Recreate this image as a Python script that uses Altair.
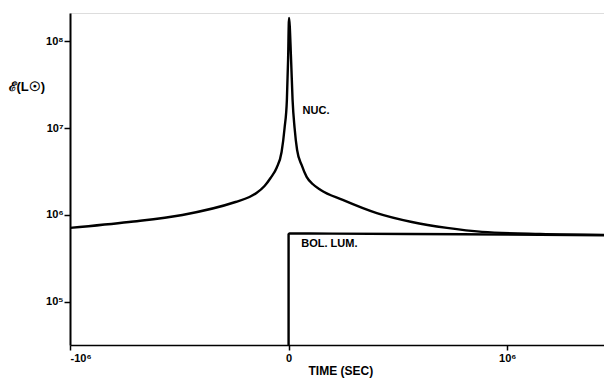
import altair as alt
import pandas as pd

# NUC. curve (time in s, luminosity in L_sun)
nuc_t = [-1000000, -730000, -486000, -243000, -179000, -147000, -110000, -82500,
         -55000, -32000, -18300, -7800, -2300, 2000, 11500, 18300, 27500, 39000,
         59600, 82600, 110000, 146800, 247700, 403700, 564000, 724800, 885000,
         1151000, 1480000]
nuc_l = [7.1e5, 8.3e5, 1.0e6, 1.41e6, 1.61e6, 1.79e6, 2.15e6, 2.66e6,
         3.47e6, 5.3e6, 1.0e7, 2.1e7, 6.05e7, 1.84e8, 6.05e7, 2.1e7, 1.0e7, 5.58e6,
         3.76e6, 2.74e6, 2.27e6, 1.94e6, 1.49e6, 1.05e6, 8.3e5, 7.1e5, 6.4e5,
         6.05e5, 5.9e5]

# BOL. LUM. curve
bol_t = [0, 0, 4000, 200000, 800000, 1480000]
bol_l = [3.2e4, 6.0e5, 6.15e5, 6.1e5, 6.0e5, 5.85e5]

x_ticks = [-1000000, 0, 1000000]
y_ticks = [1e5, 1e6, 1e7, 1e8]

df = pd.concat([
    pd.DataFrame({"t": nuc_t, "L": nuc_l, "s": "NUC", "i": range(len(nuc_t))}),
    pd.DataFrame({"t": bol_t, "L": bol_l, "s": "BOL", "i": range(len(bol_t))}),
])

labels = pd.DataFrame({
    "t": [64000, 58000],
    "L": [1.55e7, 4.6e5],
    "txt": ["NUC.", "BOL.  LUM."],
})

FONT = "Liberation Sans"

xs = alt.Scale(domain=[-1000000, 1443000], nice=False, zero=False)
ys = alt.Scale(type="log", domain=[32000, 2.1e8], nice=False)

lines = alt.Chart(df).mark_line(color="black", strokeWidth=2.4, clip=True,
                                 interpolate="monotone").encode(
    x=alt.X("t:Q", scale=xs, axis=alt.Axis(
        values=x_ticks, title="TIME (SEC)", grid=False,
        labelExpr="datum.value == 0 ? '0' : (datum.value < 0 ? '-10⁶' : '10⁶')",
        domainColor="black", domainWidth=1.5, tickColor="black", tickWidth=1.5,
        tickSize=5, labelColor="black", labelFont=FONT, labelFontWeight="bold",
        labelFontSize=11, labelPadding=2,
        titleFont=FONT, titleFontWeight="bold", titleFontSize=12, titleColor="black",
        titleAlign="left", titleX=238, titlePadding=2)),
    y=alt.Y("L:Q", scale=ys, axis=alt.Axis(
        values=y_ticks, grid=False, title="ℰ(L☉)",
        labelExpr="datum.value == 1e8 ? '10⁸' : datum.value == 1e7 ? '10⁷' : datum.value == 1e6 ? '10⁶' : '10⁵'",
        domainColor="black", domainWidth=2, tickColor="black", tickWidth=1.5,
        tickSize=6, labelColor="black", labelFont=FONT, labelFontWeight="bold",
        labelFontSize=11, labelPadding=1,
        titleFont=FONT, titleFontWeight="bold", titleFontSize=13, titleColor="black",
        titleAngle=0, titleAlign="left", titleBaseline="middle", titleX=-62, titleY=73)),
    detail="s:N",
    order="i:Q",
)

texts = alt.Chart(labels).mark_text(
    align="left", baseline="middle", font=FONT, fontWeight="bold", fontSize=11, color="black"
).encode(x=alt.X("t:Q", scale=xs), y=alt.Y("L:Q", scale=ys), text="txt:N")

chart = (lines + texts).properties(
    width=534, height=332,
    autosize=alt.AutoSizeParams(type="none"),
    padding={"left": 62, "top": 5, "right": 0, "bottom": 36},
).configure_view(stroke=None).configure(background="white")

chart.save("out.html", embed_options={"renderer": "svg", "actions": False})
